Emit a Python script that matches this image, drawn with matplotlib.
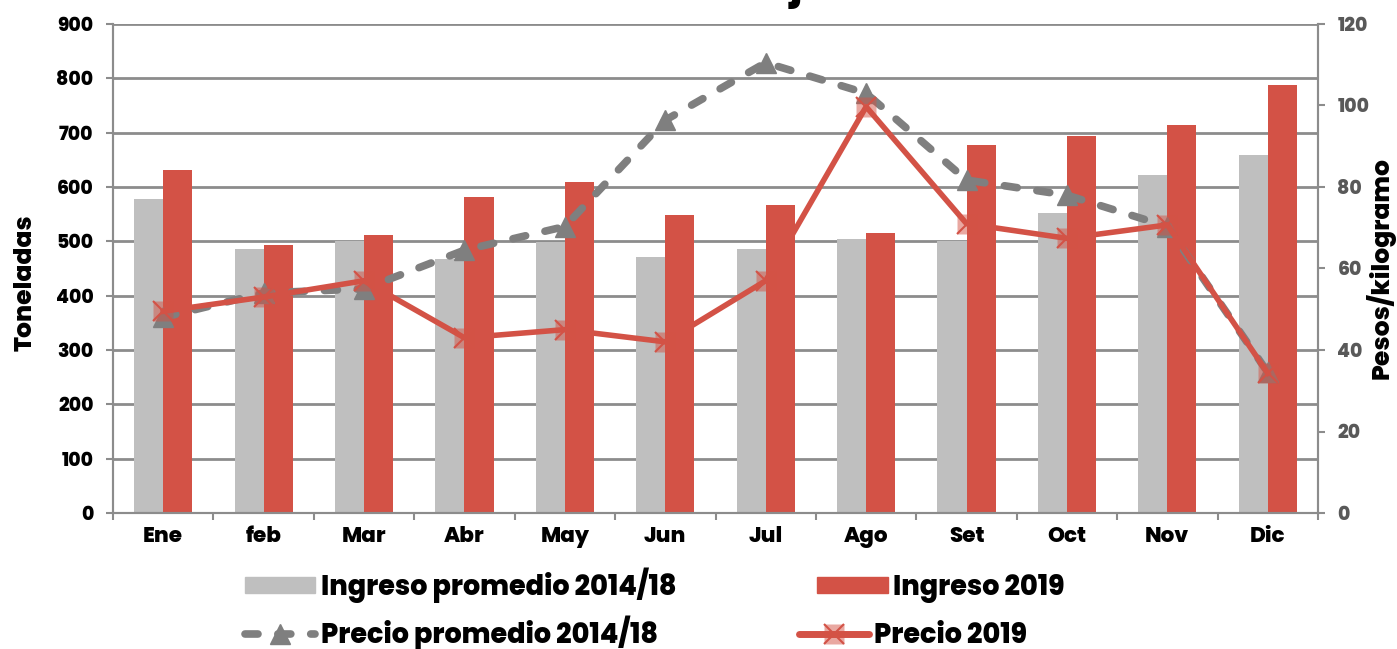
import numpy as np
import matplotlib.pyplot as plt
from matplotlib.lines import Line2D
from matplotlib.patches import Patch

meses = ['Ene', 'feb', 'Mar', 'Abr', 'May', 'Jun', 'Jul', 'Ago', 'Set', 'Oct', 'Nov', 'Dic']

# toneladas
ingreso_prom = [578, 486, 501, 468, 499, 471, 486, 505, 501, 552, 623, 659]
ingreso_2019 = [631, 493, 512, 582, 609, 549, 567, 516, 677, 694, 715, 787]

# pesos / kilogramo
precio_prom = [48, 54, 55, 64.5, 70.3, 96.4, 110.5, 103, 81.7, 78, 70.3, 34.5]
precio_2019 = [49.5, 53, 57, 43, 45, 42, 57, 99.7, 71, 67.4, 70.7, 34.3]

rojo = '#D35246'
rojo_claro = (0.83, 0.32, 0.27, 0.5)
gris_barra = '#BFBFBF'
gris_linea = '#7F7F7F'
gris_eje = '#8C8C8C'
dash = (0, (1.7, 2.6))

plt.rcParams['font.family'] = ['Poppins', 'DejaVu Sans']
peso = 800

fig = plt.figure(figsize=(13.97, 6.49), dpi=100)
ax = fig.add_axes([113 / 1397, 1 - 513 / 649, 1205 / 1397, 489 / 649])
ax2 = ax.twinx()

x = np.arange(len(meses))
w = 0.29
ax.bar(x - w / 2, ingreso_prom, width=w, color=gris_barra, zorder=2)
ax.bar(x + w / 2, ingreso_2019, width=w, color=rojo, zorder=2)

ax.set_xlim(-0.5, 11.5)
ax.set_ylim(0, 900)
ax.set_yticks(np.arange(0, 901, 100))
ax.yaxis.grid(True, color=gris_eje, linewidth=2)
ax.set_axisbelow(True)
ax.set_xticks(x)
ax.set_xticklabels(meses, fontsize=15.5, fontweight=peso)
ax.set_xticks(np.arange(-0.5, 12, 1), minor=True)
ax.tick_params(axis='x', which='major', length=0, pad=9)
ax.tick_params(axis='x', which='minor', length=5, width=1.5, color=gris_eje, direction='out')
ax.tick_params(axis='y', length=5, width=1.5, color=gris_eje, labelsize=13.5, pad=9)
for lab in ax.get_yticklabels():
    lab.set_fontweight(peso)
ax.spines['top'].set_visible(False)
for s in ['left', 'bottom', 'right']:
    ax.spines[s].set_color(gris_eje)
    ax.spines[s].set_linewidth(1.5)

# precios en eje derecho
ax2.plot(x, precio_prom, color=gris_linea, linewidth=5.5, linestyle=dash,
         dash_capstyle='round', marker='^', markersize=15, markeredgecolor=gris_linea,
         markerfacecolor=gris_linea, zorder=3)
ax2.plot(x, precio_2019, color=rojo, linewidth=4, zorder=4)
ax2.plot(x, precio_2019, linestyle='none', marker='s', markersize=14,
         markerfacecolor=rojo_claro, markeredgecolor='none', zorder=5)
ax2.plot(x, precio_2019, linestyle='none', marker='x', markersize=14,
         markeredgecolor=rojo, markeredgewidth=1.5, zorder=5)
ax2.set_ylim(0, 120)
ax2.set_yticks(np.arange(0, 121, 20))
ax2.tick_params(axis='y', length=5, width=1.5, color=gris_eje, labelsize=13.5,
                labelcolor='#595959', pad=9)
for lab in ax2.get_yticklabels():
    lab.set_fontweight(peso)
ax2.spines['top'].set_visible(False)
for s in ['left', 'bottom', 'right']:
    ax2.spines[s].set_color(gris_eje)
    ax2.spines[s].set_linewidth(1.5)

# titulos de ejes
fig.text(26 / 1397, 1 - 283 / 649, 'Toneladas', rotation=90, ha='center', va='center',
         fontsize=18, fontweight=peso)
fig.text(1381 / 1397, 1 - 268 / 649, 'Pesos/kilogramo', rotation=90, ha='center', va='center',
         fontsize=18, fontweight=peso)

# titulo, cortado por el borde superior como en la imagen original
fig.text(700 / 1397, 1 + 2 / 649, 'Morrón Rojo', ha='center', va='baseline',
         fontsize=30, fontweight=peso)

# leyenda: una fila por legend para que las columnas queden alineadas
leg_font = {'family': ['Poppins', 'DejaVu Sans'], 'weight': peso, 'size': 19.5}
fila1 = [Patch(color=gris_barra), Patch(color=rojo)]
fila2 = [Line2D([], [], color=gris_linea, linewidth=5.5, linestyle=dash, dash_capstyle='round',
                marker='^', markersize=15),
         (Line2D([], [], color=rojo, linewidth=5, solid_capstyle='round'),
          Line2D([], [], linestyle='none', marker='s', markersize=14,
                 markerfacecolor=rojo_claro, markeredgecolor='none'),
          Line2D([], [], linestyle='none', marker='x', markersize=14,
                 markeredgecolor=rojo, markeredgewidth=1.5))]
for hs, labs, y0 in [(fila1, ['Ingreso promedio 2014/18', 'Ingreso 2019'], 585),
                     (fila2, ['Precio promedio 2014/18', 'Precio 2019'], 633)]:
    fig.legend(hs, labs, ncol=2, loc='center left', bbox_to_anchor=(245 / 1397, 1 - y0 / 649),
               frameon=False, borderpad=0, borderaxespad=0, handlelength=2.6,
               handleheight=0.55, handletextpad=0.2, columnspacing=5.2, prop=leg_font)

plt.savefig('out.png', dpi=100)
